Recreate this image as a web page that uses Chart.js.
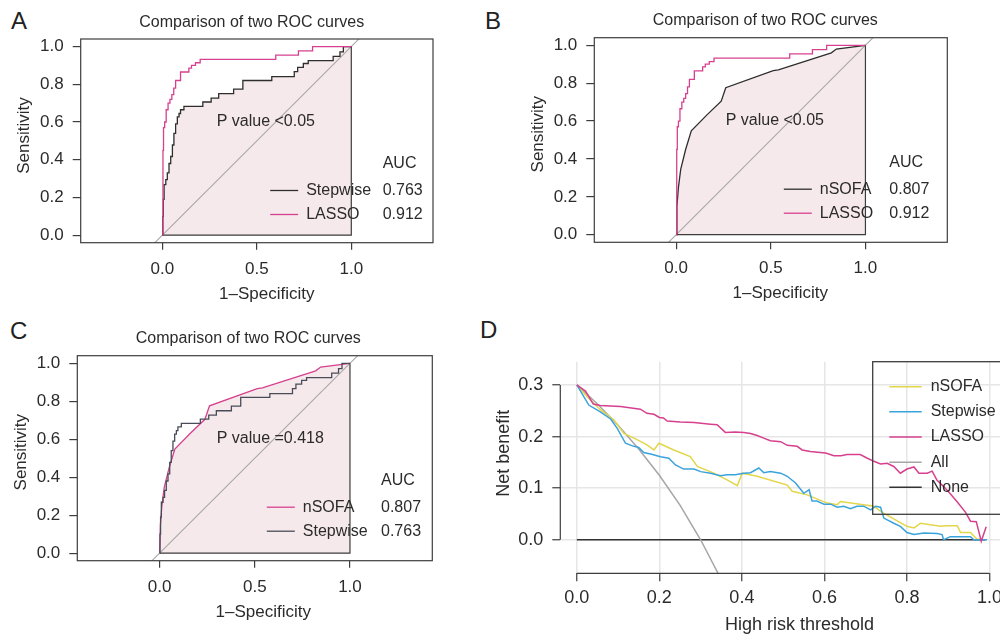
<!DOCTYPE html>
<html>
<head>
<meta charset="utf-8">
<title>ROC and decision curves</title>
<script src="https://cdn.jsdelivr.net/npm/chart.js@4.4.1/dist/chart.umd.min.js"></script>
<style>
  html, body { margin: 0; padding: 0; background: #fff; }
  body { position: relative; width: 1000px; height: 635px; overflow: hidden; }
  canvas { position: absolute; }
  .tag { position: absolute; font: 24px 'Liberation Sans', Arial, sans-serif; color: #222; line-height: 24px; }
</style>
</head>
<body>
<div class="tag" style="left:11px;top:9px">A</div>
<div class="tag" style="left:485px;top:9px">B</div>
<div class="tag" style="left:10px;top:319px">C</div>
<div class="tag" style="left:480px;top:318px">D</div>
<canvas id="rocA" width="490" height="310" style="left:0;top:0"></canvas>
<canvas id="rocB" width="510" height="310" style="left:490px;top:0"></canvas>
<canvas id="rocC" width="490" height="325" style="left:0;top:310px"></canvas>
<canvas id="dca" width="530" height="325" style="left:480px;top:310px"></canvas>
<script>
/* ---------------------------------------------------------
   data
--------------------------------------------------------- */
var ROC_X_TICKS = [0, 0.5, 1];
var ROC_Y_TICKS = [0, 0.2, 0.4, 0.6, 0.8, 1];

// Stepwise model ROC (1-specificity / sensitivity, step corners)
var STEPWISE_FPR = [0, 0.002, 0.005, 0.009, 0.018, 0.026, 0.035, 0.044, 0.053, 0.061, 0.07, 0.079, 0.088, 0.096, 0.114,
  0.214, 0.258, 0.298, 0.377, 0.426, 0.579, 0.698, 0.716, 0.746, 0.772, 0.904, 0.94, 0.958, 1];
var STEPWISE_TPR = [0, 0.1, 0.19, 0.268, 0.294, 0.33, 0.38, 0.417, 0.478, 0.54, 0.59, 0.627, 0.645, 0.665, 0.683,
  0.706, 0.727, 0.75, 0.774, 0.82, 0.84, 0.867, 0.89, 0.91, 0.925, 0.948, 0.972, 1, 1];

// LASSO model ROC
var LASSO_FPR = [0, 0.003, 0.006, 0.012, 0.02, 0.03, 0.04, 0.05, 0.06, 0.07, 0.096, 0.14, 0.154, 0.175, 0.2, 0.6, 0.72, 0.795, 1];
var LASSO_TPR = [0, 0.45, 0.57, 0.6, 0.665, 0.7, 0.72, 0.745, 0.78, 0.82, 0.865, 0.886, 0.9, 0.914, 0.932, 0.955, 0.977, 1, 1];

// nSOFA ROC (few cut-offs, straight segments)
var NSOFA_FPR = [0, 0.004, 0.012, 0.024, 0.05, 0.08, 0.16, 0.238, 0.262, 0.513, 0.54, 0.82, 0.846, 1];
var NSOFA_TPR = [0, 0.15, 0.25, 0.345, 0.45, 0.548, 0.63, 0.705, 0.776, 0.866, 0.87, 0.96, 0.98, 1];

var AUC_STEPWISE = 0.763;
var AUC_LASSO = 0.912;
var AUC_NSOFA = 0.807;
var P_TEXT_AB = 'P value <0.05';
var P_TEXT_C = 'P value =0.418';

// decision curves: threshold / net benefit
var DCA_X_TICKS = [0, 0.2, 0.4, 0.6, 0.8, 1];
var DCA_Y_TICKS = [0, 0.1, 0.2, 0.3];

var TH_NSOFA = [0, 0.025, 0.057, 0.09, 0.114, 0.146, 0.17, 0.187, 0.199, 0.235, 0.275, 0.292, 0.332, 0.364, 0.389,
  0.401, 0.437, 0.51, 0.522, 0.558, 0.607, 0.631, 0.639, 0.72, 0.736, 0.8, 0.817, 0.833, 0.881, 0.897,
  0.922, 0.93, 0.954, 0.97, 0.978];
var NB_NSOFA = [0.3, 0.277, 0.252, 0.232, 0.206, 0.194, 0.184, 0.174, 0.187, 0.174, 0.161, 0.142, 0.129, 0.116, 0.105,
  0.129, 0.123, 0.106, 0.094, 0.087, 0.071, 0.068, 0.074, 0.065, 0.055, 0.026, 0.023, 0.032, 0.026, 0.027,
  0.027, 0.014, 0.014, 0.001, 0.001];

var TH_STEPWISE = [0, 0.029, 0.057, 0.082, 0.098, 0.118, 0.138, 0.15, 0.162, 0.179, 0.203, 0.223, 0.239, 0.259, 0.284,
  0.3, 0.324, 0.348, 0.364, 0.384, 0.405, 0.421, 0.441, 0.453, 0.469, 0.494, 0.51, 0.53, 0.55, 0.563,
  0.57, 0.582, 0.599, 0.615, 0.631, 0.647, 0.663, 0.679, 0.695, 0.712, 0.724, 0.736, 0.744, 0.768, 0.784,
  0.8, 0.817, 0.841, 0.873, 0.885, 0.889, 0.905, 0.954, 0.962, 0.994];
var NB_STEPWISE = [0.3, 0.261, 0.248, 0.234, 0.216, 0.187, 0.181, 0.179, 0.169, 0.166, 0.161, 0.158, 0.145, 0.137, 0.137,
  0.132, 0.129, 0.124, 0.126, 0.126, 0.129, 0.13, 0.139, 0.13, 0.132, 0.129, 0.123, 0.11, 0.09, 0.097,
  0.075, 0.075, 0.069, 0.069, 0.063, 0.065, 0.06, 0.065, 0.065, 0.058, 0.065, 0.063, 0.042, 0.032, 0.026,
  0.014, 0.01, 0.013, 0.012, 0.01, 0, 0.006, 0.006, 0, 0];

var TH_LASSO = [0, 0.021, 0.04, 0.057, 0.106, 0.154, 0.17, 0.187, 0.2, 0.21, 0.219, 0.251, 0.284, 0.324, 0.34,
  0.36, 0.384, 0.405, 0.421, 0.437, 0.453, 0.469, 0.494, 0.51, 0.534, 0.546, 0.566, 0.59, 0.603, 0.623,
  0.64, 0.655, 0.687, 0.704, 0.72, 0.736, 0.752, 0.768, 0.784, 0.8, 0.817, 0.829, 0.849, 0.861, 0.873,
  0.889, 0.905, 0.922, 0.942, 0.954, 0.968, 0.98, 0.992];
var NB_LASSO = [0.3, 0.288, 0.263, 0.26, 0.258, 0.253, 0.245, 0.243, 0.237, 0.236, 0.23, 0.228, 0.227, 0.224, 0.223,
  0.208, 0.209, 0.208, 0.206, 0.202, 0.197, 0.192, 0.19, 0.183, 0.181, 0.174, 0.171, 0.169, 0.168, 0.163,
  0.163, 0.165, 0.165, 0.158, 0.152, 0.147, 0.148, 0.142, 0.129, 0.137, 0.141, 0.129, 0.129, 0.133, 0.115,
  0.103, 0.089, 0.073, 0.053, 0.036, 0.035, -0.003, 0.025];

var TH_ALL = [0, 0.05, 0.1, 0.15, 0.2, 0.25, 0.3, 0.35];
var NB_ALL = [0.3, 0.263, 0.222, 0.176, 0.125, 0.067, 0, -0.077];

var TH_NONE = [0, 0.99];
var NB_NONE = [0, 0];

/* ---------------------------------------------------------
   style
--------------------------------------------------------- */
var FONT = "'Liberation Sans', Arial, Helvetica, sans-serif";
var INK = '#2b2b2b';
var FRAME = '#3d3d3d';
var PINK = '#d6408e';
var DARK = '#2e2e2e';
var SLATE = '#474c58';
var FILL = '#f6e9eb';
var DIAG = '#a9a9a9';
var GRID = '#e6e6e6';

var ROC_X_MIN = -0.4325, ROC_X_MAX = 1.4325, ROC_Y_MIN = -0.04, ROC_Y_MAX = 1.04;

Chart.defaults.font.family = FONT;
Chart.defaults.color = INK;

function pts(xs, ys) {
  return xs.map(function (x, i) { return { x: x, y: ys[i] }; });
}

function fixedTicks(list) {
  return function (scale) {
    scale.ticks = list.map(function (v) { return { value: v }; });
  };
}

function oneDecimal(v) { return Number(v).toFixed(1); }

function txt(ctx, s, x, y, size, align, baseline, rot) {
  ctx.save();
  ctx.font = size + 'px ' + FONT;
  ctx.fillStyle = INK;
  ctx.textAlign = align || 'left';
  ctx.textBaseline = baseline || 'alphabetic';
  ctx.translate(x, y);
  if (rot) ctx.rotate(rot);
  ctx.fillText(s, 0, 0);
  ctx.restore();
}

function stroke(ctx, path, color, width) {
  ctx.save();
  ctx.strokeStyle = color;
  ctx.lineWidth = width;
  ctx.beginPath();
  path.forEach(function (p, i) { if (i) ctx.lineTo(p[0], p[1]); else ctx.moveTo(p[0], p[1]); });
  ctx.stroke();
  ctx.restore();
}

/* ---------------------------------------------------------
   ROC panel (pROC style: first curve shaded, diagonal, AUC legend)
--------------------------------------------------------- */
function makeRoc(id, geo, first, second, note) {
  var cv = document.getElementById(id);
  var n = first.fpr.length;

  var notes = {
    id: 'rocNotes',
    afterDraw: function (chart) {
      var a = chart.chartArea, ctx = chart.ctx;
      ctx.save();
      ctx.strokeStyle = FRAME;
      ctx.lineWidth = 1.2;
      ctx.strokeRect(a.left, a.top, a.right - a.left, a.bottom - a.top);
      ctx.restore();

      txt(ctx, 'Comparison of two ROC curves', a.left + 171, a.top - 12.3, 16, 'center');
      txt(ctx, 'Sensitivity', a.left - 51.7, a.top + 96.5, 17, 'center', 'alphabetic', -Math.PI / 2);
      txt(ctx, '1\u2013Specificity', a.left + 186, a.bottom + 56, 17, 'center');
      txt(ctx, note.p, a.left + note.pX, a.top + 87.3, 16);

      txt(ctx, 'AUC', a.left + note.valX, a.top + 125, 16, 'left', 'middle');
      [first, second].forEach(function (c, i) {
        var y = a.top + 151.5 + i * 24;
        stroke(ctx, [[a.left + 189.5, y], [a.left + 217.5, y]], c.color, 1.3);
        txt(ctx, c.name, a.left + 225.5, y, 16, 'left', 'middle');
        txt(ctx, c.auc.toFixed(3), a.left + note.valX, y, 16, 'left', 'middle');
      });
    }
  };

  return new Chart(cv, {
    type: 'scatter',
    data: {
      datasets: [
        {
          data: pts(second.fpr, second.tpr),
          borderColor: second.color, borderWidth: 1.3, stepped: second.stepped,
          showLine: true, pointRadius: 0, fill: false
        },
        {
          data: pts(first.fpr, first.tpr),
          borderColor: first.color, borderWidth: 1.3, stepped: first.stepped,
          showLine: true, pointRadius: 0, fill: 'origin', backgroundColor: FILL
        },
        {
          // outline of the shaded AUC area
          data: pts([first.fpr[0], first.fpr[n - 1], first.fpr[n - 1]], [0, 0, first.tpr[n - 1]]),
          borderColor: FRAME, borderWidth: 1.2, showLine: true, pointRadius: 0, fill: false
        },
        {
          // chance line
          data: pts([ROC_X_MIN, ROC_X_MAX], [ROC_X_MIN, ROC_X_MAX]),
          borderColor: DIAG, borderWidth: 1.1, showLine: true, pointRadius: 0, fill: false
        }
      ]
    },
    options: {
      responsive: false,
      animation: false,
      events: [],
      layout: { padding: { top: geo.top, right: cv.width - geo.right, left: 0, bottom: 0 } },
      plugins: {
        legend: { display: false },
        title: { display: false },
        tooltip: { enabled: false },
        filler: { drawTime: 'beforeDatasetsDraw' }
      },
      scales: {
        x: {
          type: 'linear', min: ROC_X_MIN, max: ROC_X_MAX,
          afterBuildTicks: fixedTicks(ROC_X_TICKS),
          afterFit: function (s) { s.height = cv.height - geo.bottom; },
          ticks: { callback: oneDecimal, font: { size: 17 }, color: INK, padding: 9, maxRotation: 0, autoSkip: false },
          grid: { drawOnChartArea: false, tickLength: 7, color: FRAME, lineWidth: 1.2 },
          border: { display: false }
        },
        y: {
          type: 'linear', min: ROC_Y_MIN, max: ROC_Y_MAX,
          afterBuildTicks: fixedTicks(ROC_Y_TICKS),
          afterFit: function (s) { s.width = geo.left; },
          ticks: { callback: oneDecimal, font: { size: 17 }, color: INK, padding: 9, autoSkip: false },
          grid: { drawOnChartArea: false, tickLength: 8, color: FRAME, lineWidth: 1.2 },
          border: { display: false }
        }
      }
    },
    plugins: [notes]
  });
}

var STEPWISE_BLACK = { fpr: STEPWISE_FPR, tpr: STEPWISE_TPR, color: DARK, stepped: true, name: 'Stepwise', auc: AUC_STEPWISE };
var STEPWISE_SLATE = { fpr: STEPWISE_FPR, tpr: STEPWISE_TPR, color: SLATE, stepped: true, name: 'Stepwise', auc: AUC_STEPWISE };
var LASSO_PINK = { fpr: LASSO_FPR, tpr: LASSO_TPR, color: PINK, stepped: true, name: 'LASSO', auc: AUC_LASSO };
var NSOFA_BLACK = { fpr: NSOFA_FPR, tpr: NSOFA_TPR, color: DARK, stepped: false, name: 'nSOFA', auc: AUC_NSOFA };
var NSOFA_PINK = { fpr: NSOFA_FPR, tpr: NSOFA_TPR, color: PINK, stepped: false, name: 'nSOFA', auc: AUC_NSOFA };

makeRoc('rocA', { left: 80.7, right: 433, top: 39, bottom: 242.7 }, STEPWISE_BLACK, LASSO_PINK,
  { p: P_TEXT_AB, pX: 136, valX: 302 });
makeRoc('rocB', { left: 104.3, right: 457.3, top: 37.7, bottom: 242.3 }, NSOFA_BLACK, LASSO_PINK,
  { p: P_TEXT_AB, pX: 131.4, valX: 295 });
makeRoc('rocC', { left: 77.3, right: 432.3, top: 45.7, bottom: 250.7 }, NSOFA_PINK, STEPWISE_SLATE,
  { p: P_TEXT_C, pX: 139.4, valX: 303.7 });

/* ---------------------------------------------------------
   decision curve panel
--------------------------------------------------------- */
(function () {
  var cv = document.getElementById('dca');
  var geo = { left: 80.3, right: 526, top: 51.7, bottom: 263.3 };

  var notes = {
    id: 'dcaNotes',
    afterDraw: function (chart) {
      var a = chart.chartArea, ctx = chart.ctx, sx = chart.scales.x, sy = chart.scales.y;
      var lx = DCA_X_TICKS.length - 1, ly = DCA_Y_TICKS.length - 1;
      stroke(ctx, [[a.left, sy.getPixelForValue(DCA_Y_TICKS[0])], [a.left, sy.getPixelForValue(DCA_Y_TICKS[ly])]], FRAME, 1.2);
      stroke(ctx, [[sx.getPixelForValue(DCA_X_TICKS[0]), a.bottom], [sx.getPixelForValue(DCA_X_TICKS[lx]), a.bottom]], FRAME, 1.2);

      txt(ctx, 'Net benefit', a.left - 51, a.top + 91.6, 18, 'center', 'alphabetic', -Math.PI / 2);
      txt(ctx, 'High risk threshold', a.left + 239.2, a.bottom + 56.7, 18, 'center');

      ctx.save();
      ctx.strokeStyle = FRAME;
      ctx.lineWidth = 1.3;
      ctx.strokeRect(a.left + 312.4, a.top, chart.width, 152.6);
      ctx.restore();
      chart.data.datasets.forEach(function (d, i) {
        var y = a.top + 25 + i * 25.15;
        stroke(ctx, [[a.left + 329, y], [a.left + 361.4, y]], d.borderColor, 1.5);
        txt(ctx, d.label, a.left + 370.4, y, 16, 'left', 'middle');
      });
    }
  };

  function series(label, xs, ys, color, order) {
    return {
      label: label, data: pts(xs, ys), borderColor: color, borderWidth: 1.5,
      showLine: true, pointRadius: 0, fill: false, order: order
    };
  }

  new Chart(cv, {
    type: 'scatter',
    data: {
      datasets: [
        series('nSOFA', TH_NSOFA, NB_NSOFA, '#e3d64a', 3),
        series('Stepwise', TH_STEPWISE, NB_STEPWISE, '#3ba3dc', 2),
        series('LASSO', TH_LASSO, NB_LASSO, PINK, 1),
        series('All', TH_ALL, NB_ALL, '#a6a6a6', 4),
        series('None', TH_NONE, NB_NONE, '#333333', 5)
      ]
    },
    options: {
      responsive: false,
      animation: false,
      events: [],
      layout: { padding: { top: geo.top, right: cv.width - geo.right, left: 0, bottom: 0 } },
      plugins: {
        legend: { display: false },
        title: { display: false },
        tooltip: { enabled: false }
      },
      scales: {
        x: {
          type: 'linear', min: -0.04, max: 1.04,
          afterBuildTicks: fixedTicks(DCA_X_TICKS),
          afterFit: function (s) { s.height = cv.height - geo.bottom; },
          ticks: { callback: oneDecimal, font: { size: 18 }, color: INK, padding: 6, maxRotation: 0, autoSkip: false },
          grid: { color: GRID, lineWidth: 1.5, tickLength: 8, tickColor: FRAME, tickWidth: 1.2 },
          border: { display: false }
        },
        y: {
          type: 'linear', min: -0.065, max: 0.345,
          afterBuildTicks: fixedTicks(DCA_Y_TICKS),
          afterFit: function (s) { s.width = geo.left; },
          ticks: { callback: oneDecimal, font: { size: 18 }, color: INK, padding: 9, autoSkip: false },
          grid: { color: GRID, lineWidth: 1.5, tickLength: 8, tickColor: FRAME, tickWidth: 1.2 },
          border: { display: false }
        }
      }
    },
    plugins: [notes]
  });
})();
</script>
</body>
</html>
